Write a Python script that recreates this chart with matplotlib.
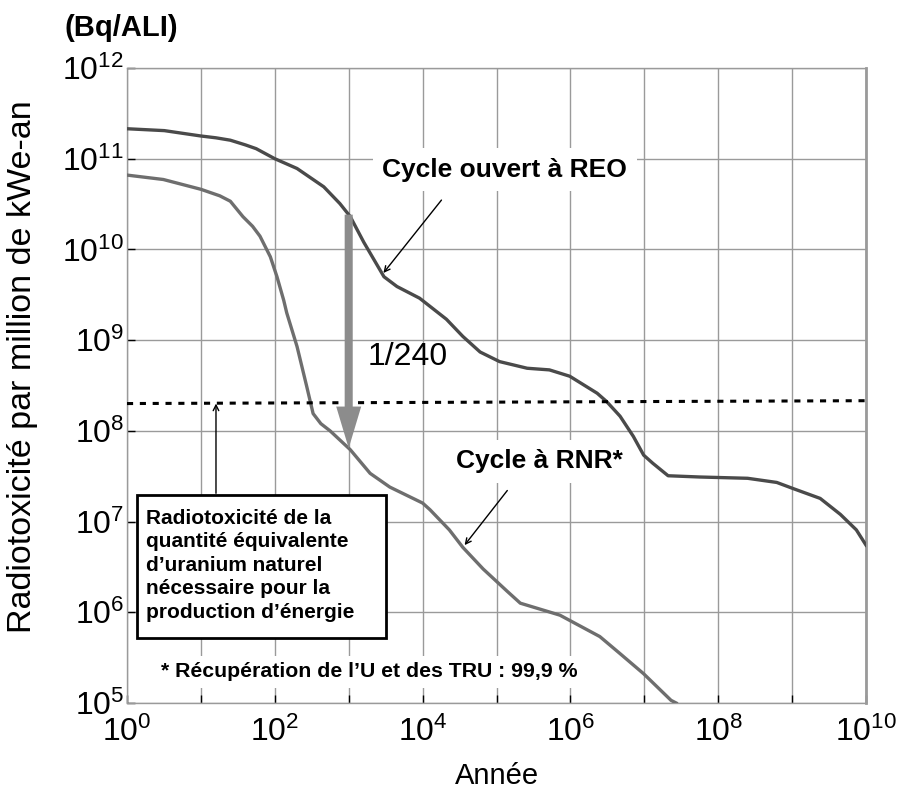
import numpy as np
import matplotlib
matplotlib.use("Agg")
import matplotlib.pyplot as plt
from matplotlib.ticker import NullLocator
from matplotlib.patches import Rectangle

plt.rcParams['font.family'] = ['Liberation Sans', 'DejaVu Sans']
plt.rcParams['mathtext.fontset'] = 'custom'
plt.rcParams['mathtext.rm'] = 'Liberation Sans'
plt.rcParams['mathtext.it'] = 'Liberation Sans:italic'
plt.rcParams['mathtext.bf'] = 'Liberation Sans:bold'

# open cycle (REO)
years_reo = [1, 3.2, 10, 16, 25, 40, 56, 100, 200, 460, 760, 1050, 1600, 3000,
             4500, 9100, 2.1e4, 3.5e4, 6.0e4, 1.1e5, 2.6e5, 5.2e5, 9.8e5, 2.3e6,
             3.1e6, 4.7e6, 7.1e6, 9.8e6, 1.3e7, 2.1e7, 5.6e7, 2.5e8, 6.2e8, 1.05e9,
             2.4e9, 4.5e9, 7.4e9, 1e10]
tox_reo = [2.14e11, 2.04e11, 1.78e11, 1.70e11, 1.60e11, 1.42e11, 1.29e11, 1.0e11,
           7.8e10, 4.9e10, 3.2e10, 2.3e10, 1.2e10, 5.0e9, 3.9e9, 2.9e9, 1.7e9,
           1.1e9, 7.4e8, 5.8e8, 4.9e8, 4.7e8, 4.0e8, 2.6e8, 2.1e8, 1.45e8, 8.7e7,
           5.4e7, 4.4e7, 3.2e7, 3.1e7, 3.0e7, 2.7e7, 2.3e7, 1.8e7, 1.2e7, 8.1e6,
           5.5e6]

# fast reactor cycle (RNR)
years_rnr = [1, 3.1, 10, 18, 25, 37, 50, 63, 87, 107, 132, 145, 200, 270, 330,
             420, 560, 1050, 1950, 3600, 1.0e4, 1.26e4, 2.3e4, 3.5e4, 6.6e4,
             1.4e5, 2.1e5, 7.2e5, 2.5e6, 4.7e6, 9.8e6, 2.3e7, 2.7e7]
tox_rnr = [6.6e10, 5.9e10, 4.6e10, 3.9e10, 3.4e10, 2.3e10, 1.8e10, 1.4e10,
           8.3e9, 5.0e9, 2.75e9, 2.0e9, 8.5e8, 3.1e8, 1.55e8, 1.2e8, 1.0e8,
           6.2e7, 3.4e7, 2.4e7, 1.6e7, 1.35e7, 8.1e6, 5.2e6, 3.0e6, 1.7e6,
           1.26e6, 9.3e5, 5.4e5, 3.5e5, 2.1e5, 1.07e5, 1.0e5]

# natural uranium reference level
years_unat = [1, 1e10]
tox_unat = [2.0e8, 2.15e8]

x_exp = list(range(0, 11))
y_exp = list(range(5, 13))

fig = plt.figure(figsize=(8.98, 8.01), dpi=100)
ax = fig.add_axes([127/898, 98/801, 739/898, 635/801])
ax.set_xscale('log')
ax.set_yscale('log')
ax.set_xlim(1, 1e10)
ax.set_ylim(1e5, 1e12)

ax.set_xticks([10.0**i for i in x_exp],
              ['$10^{%d}$' % i if i % 2 == 0 else '' for i in x_exp])
ax.set_yticks([10.0**i for i in y_exp], ['$10^{%d}$' % i for i in y_exp])
ax.xaxis.set_minor_locator(NullLocator())
ax.yaxis.set_minor_locator(NullLocator())
ax.tick_params(axis='both', direction='in', length=6, width=1, color='black',
               labelsize=23)
ax.tick_params(axis='x', pad=10)
ax.tick_params(axis='y', pad=2)

ax.set_axisbelow(True)
ax.grid(True, color='#9a9a9a', lw=1)
for s in ax.spines.values():
    s.set_color('#9a9a9a')
    s.set_linewidth(1)
ax.spines['right'].set_linewidth(2)

ax.plot(years_reo, tox_reo, color='#4a4a4a', lw=2.4, zorder=3)
ax.plot(years_rnr, tox_rnr, color='#6e6e6e', lw=2.4, zorder=3)
ax.plot(years_unat, tox_unat, color='black', lw=2.2, ls=(0, (2, 2.2)),
        dash_capstyle='butt', zorder=3)

# reduction arrow at 1000 years
top = 10**np.interp(3, np.log10(years_reo), np.log10(tox_reo))
bot = 10**np.interp(3, np.log10(years_rnr), np.log10(tox_rnr))
ax.annotate('', xy=(1e3, bot), xytext=(1e3, top),
            arrowprops=dict(arrowstyle='simple,head_width=1.8,head_length=3.0,tail_width=0.58',
                            mutation_scale=10, color='#8c8c8c', lw=0,
                            shrinkA=0, shrinkB=0), zorder=4)
ax.text(1.8e3, 6.6e8, '1/240', fontsize=23, ha='left', va='center', zorder=5)

ax.text(1.3e5, 7.6e10, 'Cycle ouvert à REO', fontsize=19, fontweight='bold',
        ha='center', va='center', zorder=5,
        bbox=dict(boxstyle='square,pad=0.35', fc='white', ec='none'))
ax.annotate('', xy=(2950, 5.5e9), xytext=(1.8e4, 3.5e10),
            arrowprops=dict(arrowstyle='->', color='black', lw=1,
                            shrinkA=0, shrinkB=0), zorder=5)

ax.text(3.8e5, 4.6e7, 'Cycle à RNR*', fontsize=19, fontweight='bold',
        ha='center', va='center', zorder=5,
        bbox=dict(boxstyle='square,pad=0.35', fc='white', ec='none'))
ax.annotate('', xy=(3.7e4, 5.5e6), xytext=(1.4e5, 2.2e7),
            arrowprops=dict(arrowstyle='->', color='black', lw=1,
                            shrinkA=0, shrinkB=0), zorder=5)

ax.text(2.9, 2.2e5, '* Récupération de l\u2019U et des TRU : 99,9 %', fontsize=15.3,
        fontweight='bold', ha='left', va='center', zorder=5,
        bbox=dict(boxstyle='square,pad=0.3', fc='white', ec='none'))

ax.add_patch(Rectangle((0.013, 0.102), 0.337, 0.225, transform=ax.transAxes,
                       fc='white', ec='black', lw=2, zorder=5))
ax.text(0.026, 0.306, 'Radiotoxicité de la\nquantité équivalente\n'
        'd\u2019uranium naturel\nnécessaire pour la\nproduction d\u2019énergie',
        transform=ax.transAxes, fontsize=15, fontweight='bold',
        ha='left', va='top', linespacing=1.3, zorder=6)
ax.annotate('', xy=(16, 2.0e8), xytext=(16, 2.05e7),
            arrowprops=dict(arrowstyle='->', color='black', lw=1,
                            shrinkA=0, shrinkB=0), zorder=5)

ax.set_xlabel('Année', fontsize=21, labelpad=10)
ax.set_ylabel('Radiotoxicité par million de kWe-an', fontsize=24.5)
ax.yaxis.set_label_coords(-0.12, 0.53)
fig.text(65/898, 1 - 28/801, '(Bq/ALI)', fontsize=21, fontweight='bold',
         ha='left', va='center')

fig.savefig('out.png', dpi=100)
